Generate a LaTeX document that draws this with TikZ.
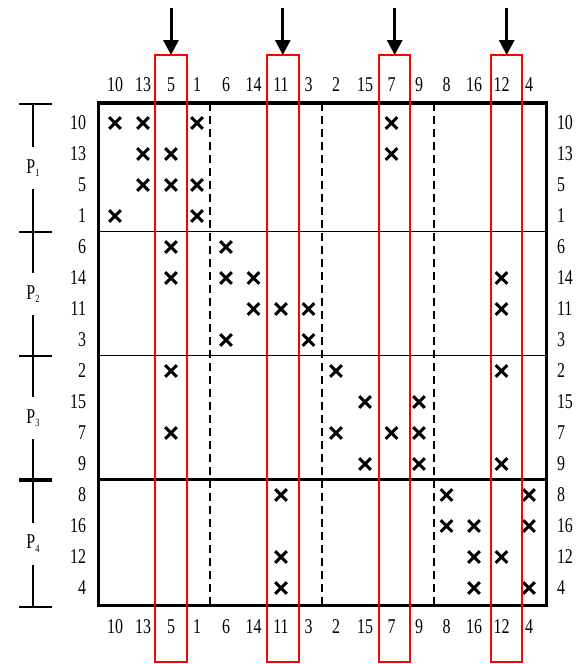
\documentclass[tikz,border=0pt]{standalone}
\usepackage{fontspec}
\setmainfont{Liberation Serif}
\usetikzlibrary{arrows.meta}
\newcommand\nlb[1]{\scalebox{0.76}[1]{#1}}
\tikzset{
  lbl/.style={inner sep=0pt, outer sep=0pt, font=\fontsize{21}{21}\selectfont},
  plbl/.style={inner sep=0pt, outer sep=0pt, font=\fontsize{21}{21}\selectfont},
  border/.style={line width=3.5pt},
  thinsep/.style={line width=1.8pt},
  thicksep/.style={line width=3.4pt},
  dashsep/.style={line width=1.5pt, dash pattern=on 8pt off 5pt},
  xm/.style={line width=3pt},
  redbox/.style={draw=red, line width=2pt, inner sep=0pt, outer sep=0pt, minimum width=31.5pt, minimum height=606.7pt},
  arr/.style={line width=3pt, -{Triangle[length=15pt,width=15pt]}},
  brk/.style={line width=2pt},
  brkthick/.style={line width=3.8pt},
}
\begin{document}
\begin{tikzpicture}[x=1pt,y=-1pt]
\useasboundingbox (0,0) rectangle (586,664);
\def\colx{{115,143,171,197,226,253.5,281,308.5,336,365,391.5,419,446.5,474,501.5,529}}
\def\names{{10,13,5,1,6,14,11,3,2,15,7,9,8,16,12,4}}
% labels
\foreach \i in {0,...,15}{
  \pgfmathsetmacro\xx{\colx[\i]}
  \pgfmathtruncatemacro\nn{\names[\i]}
  \pgfmathsetmacro\yy{123+31*\i}
  \node[lbl] (ct\i) at (\xx,85) {\nlb{\nn}};
  \node[lbl] (cb\i) at (\xx,627) {\nlb{\nn}};
  \node[lbl, anchor=east] (rl\i) at (86,\yy) {\nlb{\nn}};
  \node[lbl, anchor=west] (rr\i) at (557,\yy) {\nlb{\nn}};
}
% block separators and dashed lines
\draw[thinsep] (98.5,231.5) -- (546.5,231.5);
\draw[thinsep] (98.5,355.5) -- (546.5,355.5);
\draw[thicksep] (98.5,479.5) -- (546.5,479.5);
\foreach \dx in {210,322,434}{
  \draw[dashsep] (\dx,103) -- (\dx,605.5);
}
\draw[border] (98.5,103) rectangle (546.5,605.5);
% entries
\foreach \r/\cols in {0/{0,1,3,10},1/{1,2,10},2/{1,2,3},3/{0,3},
  4/{2,4},5/{2,4,5,14},6/{5,6,7,14},7/{4,7},
  8/{2,8,14},9/{9,11},10/{2,8,10,11},11/{9,11,14},
  12/{6,12,15},13/{12,13,15},14/{6,13,14},15/{6,13,15}}{
  \foreach \c in \cols {
    \pgfmathsetmacro\xx{\colx[\c]}
    \pgfmathsetmacro\yy{123+31*\r}
    \draw[xm] (\xx-5.8,\yy-5.8) -- (\xx+5.8,\yy+5.8)
              (\xx-5.8,\yy+5.8) -- (\xx+5.8,\yy-5.8);
  }
}
% left bracket
\foreach \ya/\yb/\k in {104/232/1,232/356/2,356/480/3,480/607/4}{
  \pgfmathsetmacro\yc{(\ya+\yb)/2}
  \node[plbl] (p\k) at (33,\yc) {\nlb{P\raisebox{-0.35ex}{\fontsize{11}{11}\selectfont\k}}};
  \draw[brk] (33,\ya) -- (p\k.north |- 0,\yc-21);
  \draw[brk] (p\k.south |- 0,\yc+21) -- (33,\yb);
}
\foreach \ty in {104,232,356,607}{
  \draw[brk] (19,\ty) -- (52,\ty);
}
\draw[brkthick] (19,480) -- (52,480);
% red boxes and arrows
\foreach \k/\bx in {1/171,2/282.8,3/394.7,4/506.7}{
  \node[redbox] (rb\k) at (\bx,358.35) {};
  \coordinate (a\k) at (\bx,8);
  \draw[arr] (a\k) -- (rb\k.north);
}
\end{tikzpicture}
\end{document}
